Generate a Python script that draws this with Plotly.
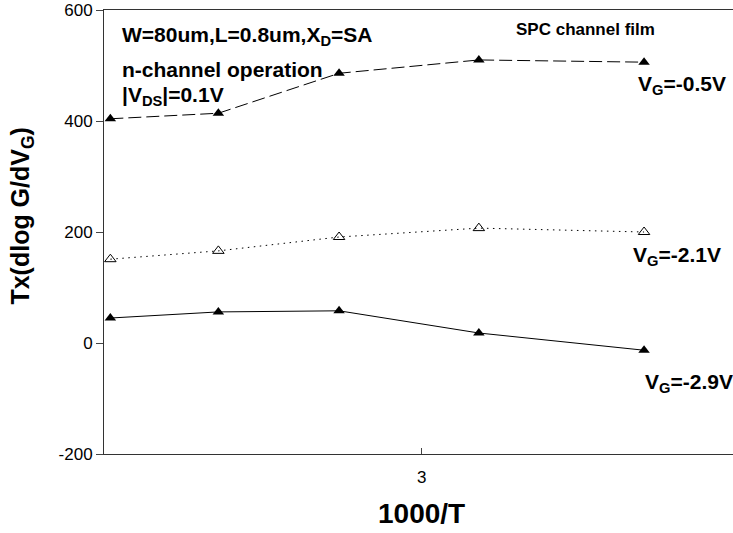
import plotly.graph_objects as go

# 1000/T values (x) and Tx(dlog G/dVG) values (y)
inv_T = [2.51, 2.68, 2.87, 3.09, 3.35]
vg_m05 = [404, 414, 486, 510, 506]
vg_m21 = [151, 166, 191, 207, 200]
vg_m29 = [45, 56, 58, 18, -13]

x_tick_vals = [3]
x_tick_text = ["3"]
y_tick_vals = [-200, 0, 200, 400, 600]
y_tick_text = ["-200", "0", "200", "400", "600"]

FONT = "Liberation Sans, Arial, sans-serif"

fig = go.Figure()
fig.add_trace(go.Scatter(
    x=inv_T, y=vg_m05, mode="lines+markers", name="VG=-0.5V",
    line=dict(color="black", width=1, dash="13px,5px"),
    marker=dict(symbol="triangle-up", size=10, color="black")))
fig.add_trace(go.Scatter(
    x=inv_T, y=vg_m21, mode="lines+markers", name="VG=-2.1V",
    line=dict(color="black", width=1, dash="1.5px,4.5px"),
    marker=dict(symbol="triangle-up-open", size=10, color="black",
                line=dict(width=1, color="black"))))
fig.add_trace(go.Scatter(
    x=inv_T, y=vg_m29, mode="lines+markers", name="VG=-2.9V",
    line=dict(color="black", width=1),
    marker=dict(symbol="triangle-up", size=10, color="black")))

ann_font = dict(family=FONT, size=21, color="black")
annotations = [
    dict(x=2.525, y=553, text="<b>W=80um,L=0.8um,X<sub>D</sub>=SA</b>", xanchor="left"),
    dict(x=2.525, y=492, text="<b>n-channel operation</b>", xanchor="left"),
    dict(x=2.525, y=445, text="<b>|V<sub>DS</sub>|=0.1V</b>", xanchor="left"),
    dict(x=3.2575, y=564, text="<b>SPC channel film</b>", xanchor="center",
         font=dict(family=FONT, size=17, color="black")),
    dict(x=3.410, y=465, text="<b>V<sub>G</sub>=-0.5V</b>", xanchor="center"),
    dict(x=3.402, y=157, text="<b>V<sub>G</sub>=-2.1V</b>", xanchor="center"),
    dict(x=3.420, y=-72, text="<b>V<sub>G</sub>=-2.9V</b>", xanchor="center"),
]
for a in annotations:
    a.setdefault("font", ann_font)
    a.update(xref="x", yref="y", showarrow=False, yanchor="middle")
    fig.add_annotation(**a)

# axis titles
fig.add_annotation(x=-0.130, y=230, xref="paper", yref="y",
                   text="<b>Tx(dlog G/dV<sub>G</sub>)</b>", textangle=-90,
                   showarrow=False, xanchor="center", yanchor="middle",
                   font=dict(family=FONT, size=25, color="black"))
fig.add_annotation(x=3.0, y=0, xref="x", yref="paper", yshift=-59,
                   text="<b>1000/T</b>", showarrow=False,
                   xanchor="center", yanchor="middle",
                   font=dict(family=FONT, size=28, color="black"))

fig.update_layout(
    width=733, height=533,
    margin=dict(l=104, r=0, t=10, b=79),
    paper_bgcolor="white", plot_bgcolor="white",
    showlegend=False,
    font=dict(family=FONT, color="black"),
)
fig.update_xaxes(
    range=[2.5, 3.49], tickvals=x_tick_vals, ticktext=x_tick_text,
    ticks="inside", ticklen=6, tickwidth=1, tickcolor="#444",
    ticklabelstandoff=8, automargin=False,
    showline=True, linecolor="#333", linewidth=1, mirror=True,
    showgrid=False, zeroline=False,
    tickfont=dict(family=FONT, size=17, color="black"),
)
fig.update_yaxes(
    range=[-200, 600], tickvals=y_tick_vals, ticktext=y_tick_text,
    ticks="outside", ticklen=7, tickwidth=1, tickcolor="#444",
    ticklabeloverflow="allow", automargin=False,
    showline=True, linecolor="#333", linewidth=1,
    showgrid=False, zeroline=False,
    tickfont=dict(family=FONT, size=17, color="black"),
)

# remove the page's default body margin so the figure fills the window exactly
fig.write_html("out.html",
               config=dict(displayModeBar=False),
               post_script="document.body.style.margin='0';document.body.style.overflow='hidden';")
